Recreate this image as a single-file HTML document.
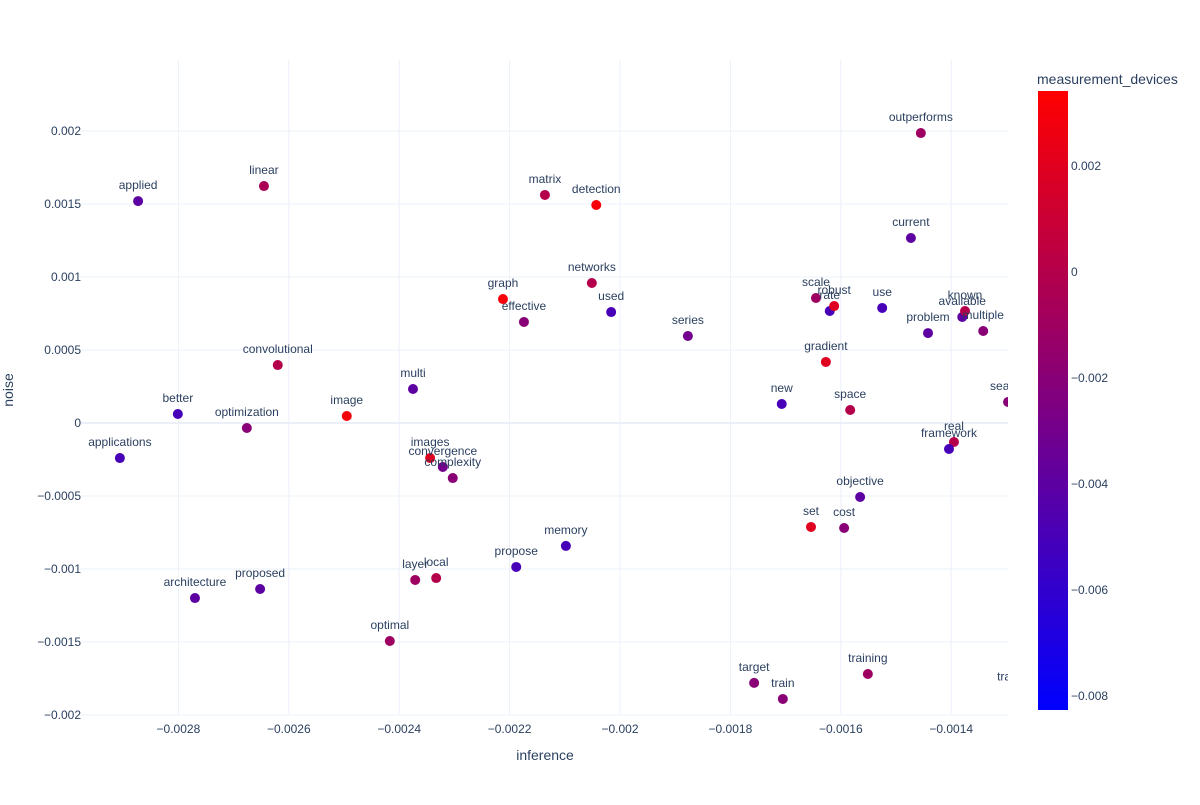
<!DOCTYPE html>
<html><head><meta charset="utf-8"><style>
body{margin:0;background:#fff;font-family:"Liberation Sans",Arial,sans-serif}
svg text{font-family:"Liberation Sans",Arial,sans-serif;fill:#2a3f5f}
</style></head><body>
<svg id="chart" width="1200" height="800" xmlns="http://www.w3.org/2000/svg">
<defs>
<clipPath id="plotclip"><rect x="80" y="60" width="928" height="655"/></clipPath>
<linearGradient id="cbgrad" x1="0" y1="1" x2="0" y2="0"><stop offset="0" stop-color="rgb(0,0,255)"/><stop offset="1" stop-color="rgb(255,0,0)"/></linearGradient>
</defs>
<g id="grid"></g>
<g id="points" clip-path="url(#plotclip)"></g>
<g id="axes"></g>
<text x="545" y="760" text-anchor="middle" font-size="14">inference</text>
<text transform="translate(13,390) rotate(-90)" text-anchor="middle" font-size="14">noise</text>
<text x="1037" y="84" font-size="14">measurement_devices</text>
<rect x="1038" y="91" width="30" height="619" fill="url(#cbgrad)"/>
<g id="cb"></g>
</svg>
<script>
const labels=["applied","linear","matrix","detection","outperforms","current","networks","graph","effective","used","series","scale","rate","robust","use","problem","available","known","multiple","gradient","convolutional","multi","better","optimization","image","new","space","search","applications","images","convergence","complexity","real","framework","objective","set","cost","memory","propose","layer","local","architecture","proposed","optimal","target","train","training","transfer"];
const xVals=[-0.002873,-0.002645,-0.002136,-0.002043,-0.001455,-0.001473,-0.002051,-0.002212,-0.002174,-0.002016,-0.001877,-0.001645,-0.00162,-0.001612,-0.001525,-0.001442,-0.00138,-0.001375,-0.001342,-0.001627,-0.00262,-0.002375,-0.002801,-0.002676,-0.002495,-0.001707,-0.001583,-0.001297,-0.002906,-0.002344,-0.002321,-0.002303,-0.001395,-0.001404,-0.001565,-0.001654,-0.001594,-0.002098,-0.002188,-0.002371,-0.002333,-0.00277,-0.002652,-0.002417,-0.001757,-0.001705,-0.001551,-0.00128];
const yVals=[0.00152,0.001623,0.001562,0.001493,0.001986,0.001267,0.000959,0.000849,0.000692,0.00076,0.000596,0.000856,0.000767,0.000801,0.000788,0.000616,0.000726,0.000767,0.00063,0.000418,0.000397,0.000233,0.0000616,-0.0000342,0.0000479,0.00013,0.000089,0.000144,-0.00024,-0.00024,-0.000301,-0.000377,-0.00013,-0.000178,-0.000507,-0.000712,-0.000719,-0.000842,-0.000986,-0.001075,-0.001062,-0.001199,-0.001137,-0.001493,-0.00178,-0.00189,-0.001719,-0.001845];
const colorVals=[-0.004,-0.0005,0,0.003,-0.001,-0.004,0,0.003,-0.002,-0.005,-0.003,-0.001,-0.005,0.002,-0.005,-0.004,-0.004,0,-0.002,0.002,0,-0.004,-0.005,-0.002,0.003,-0.005,0,-0.002,-0.005,0.002,-0.003,-0.002,0,-0.005,-0.004,0.002,-0.002,-0.005,-0.005,-0.001,0,-0.004,-0.004,-0.001,-0.002,-0.002,-0.001,-0.001];
const xTicks=[-0.0028,-0.0026,-0.0024,-0.0022,-0.002,-0.0018,-0.0016,-0.0014];
const xTickLabels=["−0.0028","−0.0026","−0.0024","−0.0022","−0.002","−0.0018","−0.0016","−0.0014"];
const yTicks=[0.002,0.0015,0.001,0.0005,0,-0.0005,-0.001,-0.0015,-0.002];
const yTickLabels=["0.002","0.0015","0.001","0.0005","0","−0.0005","−0.001","−0.0015","−0.002"];
const cbTicks=[0.002,0,-0.002,-0.004,-0.006,-0.008];
const cbTickLabels=["0.002","0","−0.002","−0.004","−0.006","−0.008"];
const cMin=-0.00825,cMax=0.00342;
const NS="http://www.w3.org/2000/svg";
const X=v=>620+(v+0.002)/0.0002*110.4;
const Y=v=>423-v/0.0005*73;
const CY=v=>272-v/0.002*106;
function col(v){let t=Math.max(0,Math.min(1,(v-cMin)/(cMax-cMin)));return `rgb(${Math.round(255*t)},0,${Math.round(255*(1-t))})`;}
function mk(tag,attrs,parent){const e=document.createElementNS(NS,tag);for(const k in attrs)e.setAttribute(k,attrs[k]);parent.appendChild(e);return e;}
const grid=document.getElementById('grid'),axes=document.getElementById('axes'),pts=document.getElementById('points'),cb=document.getElementById('cb');
xTicks.forEach((t,i)=>{const l=mk('line',{x1:X(t),x2:X(t),y1:60,y2:715,stroke:'#ebf0f8'},grid);


const tx=mk('text',{x:X(t),y:733,'text-anchor':'middle','font-size':12},axes);tx.textContent=xTickLabels[i];

});
yTicks.forEach((t,i)=>{const l=mk('line',{x1:80,x2:1008,y1:Y(t),y2:Y(t),stroke:'#ebf0f8','stroke-width':t===0?2:1},grid);


const tx=mk('text',{x:81,y:Y(t)+4,'text-anchor':'end','font-size':12},axes);tx.textContent=yTickLabels[i];

});
labels.forEach((lb,i)=>{const px=X(xVals[i]),py=Y(yVals[i]);
const c=mk('circle',{cx:px,cy:py,r:5,fill:col(colorVals[i])},pts);


const t=mk('text',{x:px,y:py-12,'text-anchor':'middle','font-size':12},pts);t.textContent=lb;

});
cbTicks.forEach((t,i)=>{const tx=mk('text',{x:1071,y:CY(t)+4,'font-size':12},cb);tx.textContent=cbTickLabels[i];

});
</script>
</body></html>
